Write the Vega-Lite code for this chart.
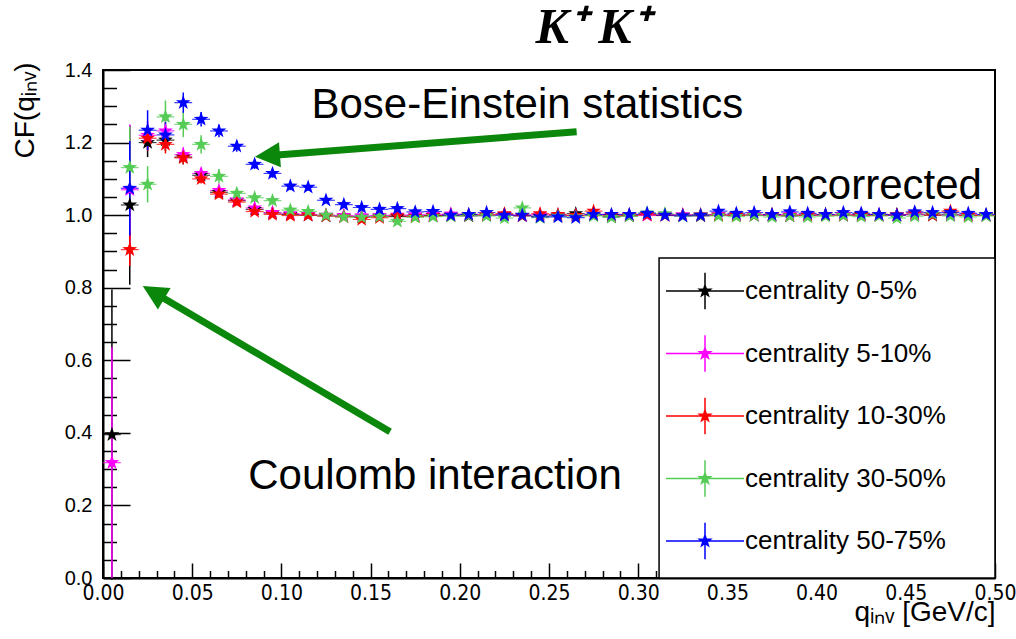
{
  "$schema": "https://vega.github.io/schema/vega-lite/v6.json",
  "width": 892,
  "height": 508,
  "autosize": "none",
  "padding": {"left": 103, "top": 70, "right": 21, "bottom": 61},
  "background": "white",
  "config": {"view": {"stroke": "black", "strokeWidth": 2}, "font": "Liberation Sans"},
  "title": {"text": "K⁺ K⁺", "font": "Liberation Serif", "fontSize": 50, "fontWeight": "bold", "fontStyle": "italic", "color": "black", "dx": 43, "offset": 7},
  "datasets": {
    "cf": [
      {"s":"0-5%","q":0.005,"cf":0.395,"e":0.4},{"s":"0-5%","q":0.015,"cf":1.028,"e":0.22},{"s":"0-5%","q":0.025,"cf":1.2,"e":0.04},{"s":"0-5%","q":0.035,"cf":1.207,"e":0.03},{"s":"0-5%","q":0.045,"cf":1.16,"e":0.02},{"s":"0-5%","q":0.055,"cf":1.11,"e":0.015},{"s":"0-5%","q":0.065,"cf":1.063,"e":0.012},{"s":"0-5%","q":0.075,"cf":1.04,"e":0.01},{"s":"0-5%","q":0.085,"cf":1.016,"e":0.009},{"s":"0-5%","q":0.095,"cf":1.006,"e":0.008},
      {"s":"0-5%","q":0.105,"cf":1.002,"e":0.007},{"s":"0-5%","q":0.115,"cf":1.0,"e":0.007},{"s":"0-5%","q":0.125,"cf":0.998,"e":0.007},{"s":"0-5%","q":0.135,"cf":0.997,"e":0.007},{"s":"0-5%","q":0.145,"cf":0.995,"e":0.007},{"s":"0-5%","q":0.155,"cf":0.997,"e":0.007},{"s":"0-5%","q":0.165,"cf":0.996,"e":0.007},{"s":"0-5%","q":0.175,"cf":0.998,"e":0.007},{"s":"0-5%","q":0.185,"cf":0.999,"e":0.007},{"s":"0-5%","q":0.195,"cf":1.0,"e":0.007},
      {"s":"0-5%","q":0.205,"cf":0.998,"e":0.006},{"s":"0-5%","q":0.215,"cf":0.999,"e":0.006},{"s":"0-5%","q":0.225,"cf":1.001,"e":0.006},{"s":"0-5%","q":0.235,"cf":0.998,"e":0.006},{"s":"0-5%","q":0.245,"cf":0.997,"e":0.006},{"s":"0-5%","q":0.255,"cf":0.999,"e":0.006},{"s":"0-5%","q":0.265,"cf":1.004,"e":0.006},{"s":"0-5%","q":0.275,"cf":1.0,"e":0.006},{"s":"0-5%","q":0.285,"cf":0.995,"e":0.006},{"s":"0-5%","q":0.295,"cf":0.998,"e":0.006},
      {"s":"0-5%","q":0.305,"cf":1.001,"e":0.006},{"s":"0-5%","q":0.315,"cf":0.999,"e":0.006},{"s":"0-5%","q":0.325,"cf":1.0,"e":0.006},{"s":"0-5%","q":0.335,"cf":0.998,"e":0.006},{"s":"0-5%","q":0.345,"cf":1.0,"e":0.006},{"s":"0-5%","q":0.355,"cf":1.001,"e":0.006},{"s":"0-5%","q":0.365,"cf":0.999,"e":0.006},{"s":"0-5%","q":0.375,"cf":1.0,"e":0.006},{"s":"0-5%","q":0.385,"cf":0.998,"e":0.006},{"s":"0-5%","q":0.395,"cf":1.0,"e":0.006},
      {"s":"0-5%","q":0.405,"cf":1.001,"e":0.006},{"s":"0-5%","q":0.415,"cf":0.999,"e":0.006},{"s":"0-5%","q":0.425,"cf":1.002,"e":0.006},{"s":"0-5%","q":0.435,"cf":1.0,"e":0.006},{"s":"0-5%","q":0.445,"cf":1.001,"e":0.006},{"s":"0-5%","q":0.455,"cf":1.002,"e":0.006},{"s":"0-5%","q":0.465,"cf":1.0,"e":0.006},{"s":"0-5%","q":0.475,"cf":1.001,"e":0.006},{"s":"0-5%","q":0.485,"cf":1.0,"e":0.006},{"s":"0-5%","q":0.495,"cf":0.999,"e":0.006},

      {"s":"5-10%","q":0.005,"cf":0.318,"e":0.318},{"s":"5-10%","q":0.015,"cf":1.07,"e":0.18},{"s":"5-10%","q":0.025,"cf":1.22,"e":0.04},{"s":"5-10%","q":0.035,"cf":1.232,"e":0.03},{"s":"5-10%","q":0.045,"cf":1.167,"e":0.02},{"s":"5-10%","q":0.055,"cf":1.115,"e":0.015},{"s":"5-10%","q":0.065,"cf":1.068,"e":0.012},{"s":"5-10%","q":0.075,"cf":1.042,"e":0.01},{"s":"5-10%","q":0.085,"cf":1.02,"e":0.009},{"s":"5-10%","q":0.095,"cf":1.007,"e":0.008},
      {"s":"5-10%","q":0.105,"cf":1.004,"e":0.007},{"s":"5-10%","q":0.115,"cf":1.002,"e":0.007},{"s":"5-10%","q":0.125,"cf":1.0,"e":0.007},{"s":"5-10%","q":0.135,"cf":0.999,"e":0.007},{"s":"5-10%","q":0.145,"cf":0.998,"e":0.007},{"s":"5-10%","q":0.155,"cf":0.999,"e":0.007},{"s":"5-10%","q":0.165,"cf":1.0,"e":0.007},{"s":"5-10%","q":0.175,"cf":1.001,"e":0.007},{"s":"5-10%","q":0.185,"cf":1.002,"e":0.007},{"s":"5-10%","q":0.195,"cf":1.003,"e":0.007},
      {"s":"5-10%","q":0.205,"cf":1.002,"e":0.006},{"s":"5-10%","q":0.215,"cf":1.0,"e":0.006},{"s":"5-10%","q":0.225,"cf":1.001,"e":0.006},{"s":"5-10%","q":0.235,"cf":0.999,"e":0.006},{"s":"5-10%","q":0.245,"cf":1.001,"e":0.006},{"s":"5-10%","q":0.255,"cf":1.0,"e":0.006},{"s":"5-10%","q":0.265,"cf":0.999,"e":0.006},{"s":"5-10%","q":0.275,"cf":1.002,"e":0.006},{"s":"5-10%","q":0.285,"cf":1.0,"e":0.006},{"s":"5-10%","q":0.295,"cf":1.001,"e":0.006},
      {"s":"5-10%","q":0.305,"cf":0.999,"e":0.006},{"s":"5-10%","q":0.315,"cf":1.0,"e":0.006},{"s":"5-10%","q":0.325,"cf":1.001,"e":0.006},{"s":"5-10%","q":0.335,"cf":1.0,"e":0.006},{"s":"5-10%","q":0.345,"cf":1.002,"e":0.006},{"s":"5-10%","q":0.355,"cf":1.0,"e":0.006},{"s":"5-10%","q":0.365,"cf":1.001,"e":0.006},{"s":"5-10%","q":0.375,"cf":1.0,"e":0.006},{"s":"5-10%","q":0.385,"cf":1.002,"e":0.006},{"s":"5-10%","q":0.395,"cf":1.001,"e":0.006},
      {"s":"5-10%","q":0.405,"cf":1.0,"e":0.006},{"s":"5-10%","q":0.415,"cf":1.001,"e":0.006},{"s":"5-10%","q":0.425,"cf":0.999,"e":0.006},{"s":"5-10%","q":0.435,"cf":1.002,"e":0.006},{"s":"5-10%","q":0.445,"cf":1.0,"e":0.006},{"s":"5-10%","q":0.455,"cf":1.001,"e":0.006},{"s":"5-10%","q":0.465,"cf":1.002,"e":0.006},{"s":"5-10%","q":0.475,"cf":1.0,"e":0.006},{"s":"5-10%","q":0.485,"cf":1.001,"e":0.006},{"s":"5-10%","q":0.495,"cf":1.0,"e":0.006},

      {"s":"10-30%","q":0.015,"cf":0.905,"e":0.045},{"s":"10-30%","q":0.025,"cf":1.212,"e":0.035},{"s":"10-30%","q":0.035,"cf":1.195,"e":0.025},{"s":"10-30%","q":0.045,"cf":1.158,"e":0.018},{"s":"10-30%","q":0.055,"cf":1.1,"e":0.013},{"s":"10-30%","q":0.065,"cf":1.058,"e":0.01},{"s":"10-30%","q":0.075,"cf":1.036,"e":0.009},{"s":"10-30%","q":0.085,"cf":1.01,"e":0.008},{"s":"10-30%","q":0.095,"cf":1.002,"e":0.007},
      {"s":"10-30%","q":0.105,"cf":0.999,"e":0.007},{"s":"10-30%","q":0.115,"cf":1.0,"e":0.007},{"s":"10-30%","q":0.125,"cf":0.998,"e":0.007},{"s":"10-30%","q":0.135,"cf":0.995,"e":0.007},{"s":"10-30%","q":0.145,"cf":0.988,"e":0.007},{"s":"10-30%","q":0.155,"cf":0.993,"e":0.007},{"s":"10-30%","q":0.165,"cf":0.998,"e":0.007},{"s":"10-30%","q":0.175,"cf":0.996,"e":0.007},{"s":"10-30%","q":0.185,"cf":0.998,"e":0.007},{"s":"10-30%","q":0.195,"cf":0.999,"e":0.007},
      {"s":"10-30%","q":0.205,"cf":1.0,"e":0.006},{"s":"10-30%","q":0.215,"cf":1.001,"e":0.006},{"s":"10-30%","q":0.225,"cf":1.004,"e":0.006},{"s":"10-30%","q":0.235,"cf":0.999,"e":0.006},{"s":"10-30%","q":0.245,"cf":1.004,"e":0.006},{"s":"10-30%","q":0.255,"cf":1.002,"e":0.006},{"s":"10-30%","q":0.265,"cf":0.999,"e":0.006},{"s":"10-30%","q":0.275,"cf":1.011,"e":0.006},{"s":"10-30%","q":0.285,"cf":1.0,"e":0.006},{"s":"10-30%","q":0.295,"cf":0.999,"e":0.006},
      {"s":"10-30%","q":0.305,"cf":1.001,"e":0.006},{"s":"10-30%","q":0.315,"cf":1.0,"e":0.006},{"s":"10-30%","q":0.325,"cf":0.999,"e":0.006},{"s":"10-30%","q":0.335,"cf":1.001,"e":0.006},{"s":"10-30%","q":0.345,"cf":1.0,"e":0.006},{"s":"10-30%","q":0.355,"cf":0.999,"e":0.006},{"s":"10-30%","q":0.365,"cf":1.0,"e":0.006},{"s":"10-30%","q":0.375,"cf":1.001,"e":0.006},{"s":"10-30%","q":0.385,"cf":0.999,"e":0.006},{"s":"10-30%","q":0.395,"cf":1.0,"e":0.006},
      {"s":"10-30%","q":0.405,"cf":1.001,"e":0.006},{"s":"10-30%","q":0.415,"cf":1.0,"e":0.006},{"s":"10-30%","q":0.425,"cf":1.0,"e":0.006},{"s":"10-30%","q":0.435,"cf":0.999,"e":0.006},{"s":"10-30%","q":0.445,"cf":1.0,"e":0.006},{"s":"10-30%","q":0.455,"cf":1.006,"e":0.006},{"s":"10-30%","q":0.465,"cf":1.0,"e":0.006},{"s":"10-30%","q":0.475,"cf":1.011,"e":0.006},{"s":"10-30%","q":0.485,"cf":0.999,"e":0.006},{"s":"10-30%","q":0.495,"cf":1.0,"e":0.006},

      {"s":"30-50%","q":0.015,"cf":1.131,"e":0.113},{"s":"30-50%","q":0.025,"cf":1.085,"e":0.05},{"s":"30-50%","q":0.035,"cf":1.271,"e":0.045},{"s":"30-50%","q":0.045,"cf":1.25,"e":0.035},{"s":"30-50%","q":0.055,"cf":1.195,"e":0.025},{"s":"30-50%","q":0.065,"cf":1.107,"e":0.02},{"s":"30-50%","q":0.075,"cf":1.06,"e":0.015},{"s":"30-50%","q":0.085,"cf":1.048,"e":0.012},{"s":"30-50%","q":0.095,"cf":1.04,"e":0.011},
      {"s":"30-50%","q":0.105,"cf":1.014,"e":0.01},{"s":"30-50%","q":0.115,"cf":1.01,"e":0.009},{"s":"30-50%","q":0.125,"cf":1.0,"e":0.008},{"s":"30-50%","q":0.135,"cf":0.995,"e":0.008},{"s":"30-50%","q":0.145,"cf":0.994,"e":0.007},{"s":"30-50%","q":0.155,"cf":0.996,"e":0.007},{"s":"30-50%","q":0.165,"cf":0.983,"e":0.007},{"s":"30-50%","q":0.175,"cf":0.994,"e":0.007},{"s":"30-50%","q":0.185,"cf":0.996,"e":0.007},{"s":"30-50%","q":0.195,"cf":0.997,"e":0.007},
      {"s":"30-50%","q":0.205,"cf":0.999,"e":0.006},{"s":"30-50%","q":0.215,"cf":0.998,"e":0.006},{"s":"30-50%","q":0.225,"cf":0.992,"e":0.006},{"s":"30-50%","q":0.235,"cf":1.02,"e":0.006},{"s":"30-50%","q":0.245,"cf":0.993,"e":0.006},{"s":"30-50%","q":0.255,"cf":0.997,"e":0.006},{"s":"30-50%","q":0.265,"cf":0.995,"e":0.006},{"s":"30-50%","q":0.275,"cf":0.998,"e":0.006},{"s":"30-50%","q":0.285,"cf":0.994,"e":0.006},{"s":"30-50%","q":0.295,"cf":0.997,"e":0.006},
      {"s":"30-50%","q":0.305,"cf":1.006,"e":0.006},{"s":"30-50%","q":0.315,"cf":1.004,"e":0.006},{"s":"30-50%","q":0.325,"cf":0.997,"e":0.006},{"s":"30-50%","q":0.335,"cf":1.0,"e":0.006},{"s":"30-50%","q":0.345,"cf":0.998,"e":0.006},{"s":"30-50%","q":0.355,"cf":0.996,"e":0.006},{"s":"30-50%","q":0.365,"cf":0.999,"e":0.006},{"s":"30-50%","q":0.375,"cf":0.995,"e":0.006},{"s":"30-50%","q":0.385,"cf":0.998,"e":0.006},{"s":"30-50%","q":0.395,"cf":0.995,"e":0.006},
      {"s":"30-50%","q":0.405,"cf":0.997,"e":0.006},{"s":"30-50%","q":0.415,"cf":0.999,"e":0.006},{"s":"30-50%","q":0.425,"cf":0.996,"e":0.006},{"s":"30-50%","q":0.435,"cf":0.998,"e":0.006},{"s":"30-50%","q":0.445,"cf":0.992,"e":0.006},{"s":"30-50%","q":0.455,"cf":0.997,"e":0.006},{"s":"30-50%","q":0.465,"cf":1.003,"e":0.006},{"s":"30-50%","q":0.475,"cf":0.998,"e":0.006},{"s":"30-50%","q":0.485,"cf":0.995,"e":0.006},{"s":"30-50%","q":0.495,"cf":0.998,"e":0.006},

      {"s":"50-75%","q":0.015,"cf":1.074,"e":0.13},{"s":"50-75%","q":0.025,"cf":1.234,"e":0.055},{"s":"50-75%","q":0.035,"cf":1.221,"e":0.035},{"s":"50-75%","q":0.045,"cf":1.31,"e":0.028},{"s":"50-75%","q":0.055,"cf":1.264,"e":0.02},{"s":"50-75%","q":0.065,"cf":1.232,"e":0.017},{"s":"50-75%","q":0.075,"cf":1.19,"e":0.015},{"s":"50-75%","q":0.085,"cf":1.14,"e":0.013},{"s":"50-75%","q":0.095,"cf":1.115,"e":0.012},
      {"s":"50-75%","q":0.105,"cf":1.08,"e":0.011},{"s":"50-75%","q":0.115,"cf":1.077,"e":0.01},{"s":"50-75%","q":0.125,"cf":1.041,"e":0.009},{"s":"50-75%","q":0.135,"cf":1.029,"e":0.008},{"s":"50-75%","q":0.145,"cf":1.021,"e":0.007},{"s":"50-75%","q":0.155,"cf":1.016,"e":0.007},{"s":"50-75%","q":0.165,"cf":1.018,"e":0.007},{"s":"50-75%","q":0.175,"cf":1.009,"e":0.007},{"s":"50-75%","q":0.185,"cf":1.01,"e":0.007},{"s":"50-75%","q":0.195,"cf":1.0,"e":0.007},
      {"s":"50-75%","q":0.205,"cf":1.002,"e":0.006},{"s":"50-75%","q":0.215,"cf":1.007,"e":0.006},{"s":"50-75%","q":0.225,"cf":1.0,"e":0.006},{"s":"50-75%","q":0.235,"cf":1.0,"e":0.006},{"s":"50-75%","q":0.245,"cf":0.995,"e":0.006},{"s":"50-75%","q":0.255,"cf":0.995,"e":0.006},{"s":"50-75%","q":0.265,"cf":0.993,"e":0.006},{"s":"50-75%","q":0.275,"cf":1.002,"e":0.006},{"s":"50-75%","q":0.285,"cf":1.002,"e":0.006},{"s":"50-75%","q":0.295,"cf":1.002,"e":0.006},
      {"s":"50-75%","q":0.305,"cf":1.005,"e":0.006},{"s":"50-75%","q":0.315,"cf":1.0,"e":0.006},{"s":"50-75%","q":0.325,"cf":0.998,"e":0.006},{"s":"50-75%","q":0.335,"cf":1.0,"e":0.006},{"s":"50-75%","q":0.345,"cf":1.011,"e":0.006},{"s":"50-75%","q":0.355,"cf":1.005,"e":0.006},{"s":"50-75%","q":0.365,"cf":1.007,"e":0.006},{"s":"50-75%","q":0.375,"cf":1.002,"e":0.006},{"s":"50-75%","q":0.385,"cf":1.009,"e":0.006},{"s":"50-75%","q":0.395,"cf":1.005,"e":0.006},
      {"s":"50-75%","q":0.405,"cf":1.002,"e":0.006},{"s":"50-75%","q":0.415,"cf":1.007,"e":0.006},{"s":"50-75%","q":0.425,"cf":1.005,"e":0.006},{"s":"50-75%","q":0.435,"cf":1.002,"e":0.006},{"s":"50-75%","q":0.445,"cf":1.0,"e":0.006},{"s":"50-75%","q":0.455,"cf":1.009,"e":0.006},{"s":"50-75%","q":0.465,"cf":1.007,"e":0.006},{"s":"50-75%","q":0.475,"cf":1.007,"e":0.006},{"s":"50-75%","q":0.485,"cf":1.005,"e":0.006},{"s":"50-75%","q":0.495,"cf":1.002,"e":0.006}
    ],
    "box": [{"q": 0.3117, "q2": 0.5, "cf": 0, "cf2": 0.882}],
    "arrow1": [{"q": 0.2655, "cf": 1.2298, "q2": 0.0922, "cf2": 1.1637}],
    "arrow2": [{"q": 0.1609, "cf": 0.4031, "q2": 0.0283, "cf2": 0.7873}],
    "notes": [
      {"q": 0.2379, "cf": 1.2675, "t": "Bose-Einstein statistics"},
      {"q": 0.4305, "cf": 1.044, "t": "uncorrected"},
      {"q": 0.1861, "cf": 0.2452, "t": "Coulomb interaction"}
    ]
  },
  "encoding": {
    "x": {
      "field": "q", "type": "quantitative",
      "scale": {"domain": [0, 0.5], "nice": false, "zero": false},
      "axis": {
        "values": [0,0.01,0.02,0.03,0.04,0.05,0.06,0.07,0.08,0.09,0.1,0.11,0.12,0.13,0.14,0.15,0.16,0.17,0.18,0.19,0.2,0.21,0.22,0.23,0.24,0.25,0.26,0.27,0.28,0.29,0.3,0.31,0.32,0.33,0.34,0.35,0.36,0.37,0.38,0.39,0.4,0.41,0.42,0.43,0.44,0.45,0.46,0.47,0.48,0.49,0.5],
        "labelExpr": "abs(datum.value*20-round(datum.value*20))<1e-6 ? format(datum.value, '.2f') : ''",
        "tickSize": {"condition": {"test": "abs(datum.value*20-round(datum.value*20))<1e-6", "value": -15}, "value": -7.5},
        "tickColor": "black", "tickWidth": 1.5, "domainColor": "black", "domainWidth": 2,
        "labelFont": "DejaVu Sans Condensed, Liberation Sans", "labelFontSize": 21, "labelColor": "black", "labelPadding": 19,
        "labelFlush": false, "labelOverlap": false, "grid": false,
        "title": "qᵢₙᵥ [GeV/c]", "titleFont": "Liberation Sans", "titleFontSize": 28, "titleFontWeight": "normal", "titleColor": "black",
        "titleAnchor": "end", "titleAlign": "right", "titleBaseline": "alphabetic", "titleX": 892, "titleY": 42
      }
    },
    "y": {
      "field": "cf", "type": "quantitative",
      "scale": {"domain": [0, 1.4], "nice": false, "zero": false},
      "axis": {
        "values": [0,0.05,0.1,0.15,0.2,0.25,0.3,0.35,0.4,0.45,0.5,0.55,0.6,0.65,0.7,0.75,0.8,0.85,0.9,0.95,1,1.05,1.1,1.15,1.2,1.25,1.3,1.35,1.4],
        "labelExpr": "abs(datum.value*5-round(datum.value*5))<1e-6 ? format(datum.value, '.1f') : ''",
        "tickSize": {"condition": {"test": "abs(datum.value*5-round(datum.value*5))<1e-6", "value": -27}, "value": -13.5},
        "tickColor": "black", "tickWidth": 1.5, "domainColor": "black", "domainWidth": 2,
        "labelFont": "Liberation Sans", "labelFontSize": 20, "labelColor": "black", "labelPadding": 38,
        "labelFlush": false, "labelOverlap": false, "grid": false,
        "title": "CF(qᵢₙᵥ)", "titleFont": "Liberation Sans", "titleFontSize": 28, "titleFontWeight": "normal", "titleColor": "black",
        "titleAngle": -90, "titleAlign": "right", "titleBaseline": "alphabetic", "titleX": -70, "titleY": -8
      }
    }
  },
  "layer": [
    {
      "data": {"name": "box"},
      "mark": {"type": "rect", "fill": "white", "stroke": "black", "strokeWidth": 1.5},
      "encoding": {"x2": {"field": "q2"}, "y2": {"field": "cf2"}}
    },
    {
      "data": {"name": "cf"},
      "mark": {"type": "errorbar", "ticks": false, "rule": {"strokeWidth": 1.5}},
      "encoding": {
        "yError": {"field": "e"},
        "color": {"field": "s", "type": "nominal",
          "scale": {"domain": ["0-5%", "5-10%", "10-30%", "30-50%", "50-75%"], "range": ["#000000", "#ff00ff", "#ff0000", "#55cc55", "#0000ff"]}}
      }
    },
    {
      "data": {"name": "cf"},
      "mark": {"type": "tick", "orient": "horizontal", "size": 17.8, "thickness": 1.2, "opacity": 0.75},
      "encoding": {
        "color": {"field": "s", "type": "nominal"}
      }
    },
    {
      "data": {"name": "cf"},
      "mark": {"type": "point", "filled": true, "opacity": 1, "size": 240,
        "shape": "M0,-1L0.2351,-0.3236L0.9511,-0.309L0.3804,0.1236L0.5878,0.809L0,0.4L-0.5878,0.809L-0.3804,0.1236L-0.9511,-0.309L-0.2351,-0.3236Z"},
      "encoding": {
        "color": {"field": "s", "type": "nominal",
          "legend": {
            "orient": "none", "legendX": 562, "legendY": 181, "title": null, "padding": 0,
            "labelExpr": "'centrality ' + datum.label",
            "symbolType": "M-1,0H1M0,-0.47V0.47M0,-0.15L0.035,-0.048L0.143,-0.046L0.057,0.018L0.088,0.121L0,0.06L-0.088,0.121L-0.057,0.018L-0.143,-0.046L-0.035,-0.048Z",
            "symbolSize": 6084, "symbolStrokeWidth": 1.5, "symbolOpacity": 1,
            "labelFont": "Liberation Sans", "labelFontSize": 26, "labelColor": "black", "labelOffset": 0,
            "rowPadding": 0.5, "labelLimit": 400,
            "encode": {"symbols": {"update": {"stroke": {"scale": "color", "field": "value"}, "fill": {"scale": "color", "field": "value"}, "strokeWidth": {"value": 1.5}, "opacity": {"value": 1}}}}
          }
        }
      }
    },
    {
      "data": {"name": "arrow1"},
      "mark": {"type": "rule", "color": "#0b870b", "strokeWidth": 7},
      "encoding": {"x2": {"field": "q2"}, "y2": {"field": "cf2"}}
    },
    {
      "data": {"name": "arrow1"},
      "mark": {"type": "point", "filled": true, "opacity": 1, "color": "#0b870b", "size": 625, "angle": 265.6, "shape": "M0,-1L1,1L-1,1Z"},
      "encoding": {"x": {"field": "q2"}, "y": {"field": "cf2"}}
    },
    {
      "data": {"name": "arrow2"},
      "mark": {"type": "rule", "color": "#0b870b", "strokeWidth": 7},
      "encoding": {"x2": {"field": "q2"}, "y2": {"field": "cf2"}}
    },
    {
      "data": {"name": "arrow2"},
      "mark": {"type": "point", "filled": true, "opacity": 1, "color": "#0b870b", "size": 625, "angle": 300.5, "shape": "M0,-1L1,1L-1,1Z"},
      "encoding": {"x": {"field": "q2"}, "y": {"field": "cf2"}}
    },
    {
      "data": {"name": "notes"},
      "mark": {"type": "text", "font": "Liberation Sans", "fontSize": 42, "color": "black", "align": "center", "baseline": "alphabetic"},
      "encoding": {"text": {"field": "t"}}
    }
  ]
}
